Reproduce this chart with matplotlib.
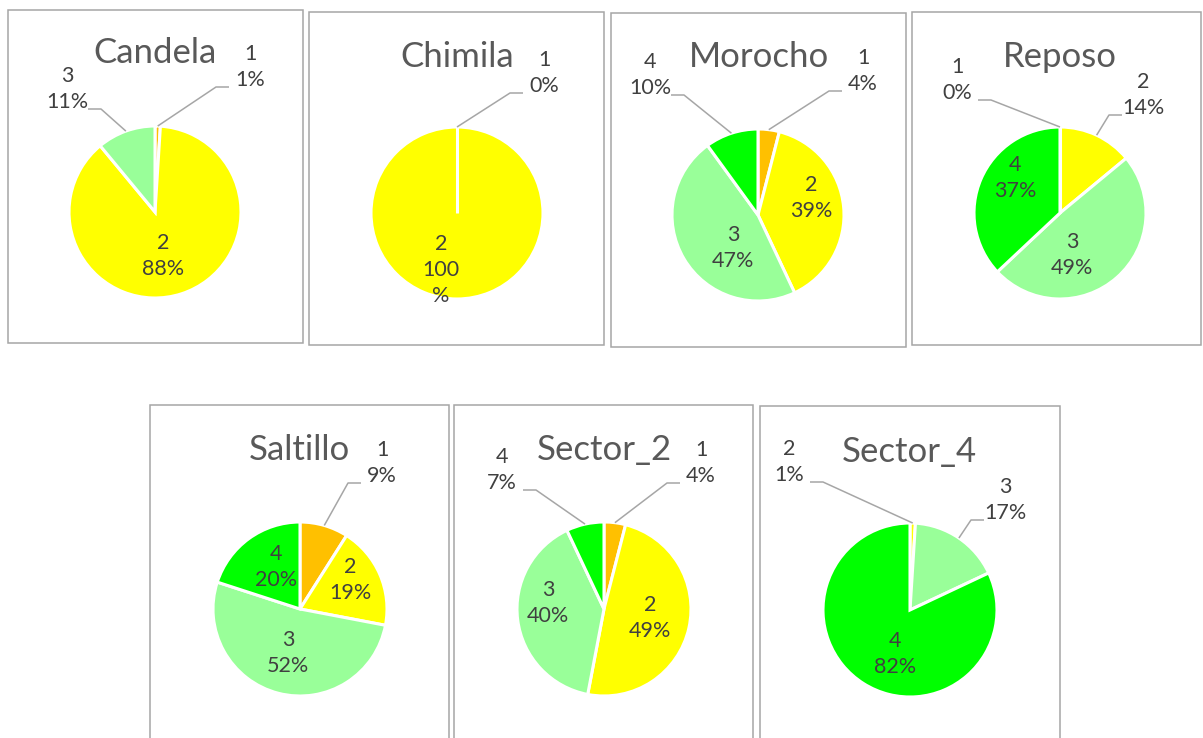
import numpy as np
import matplotlib
matplotlib.use("Agg")
import matplotlib.pyplot as plt
from matplotlib.patches import Rectangle

# ── Data: share of each class per site (%) ───────────────────────────────────
sites = ["Candela", "Chimila", "Morocho", "Reposo", "Saltillo", "Sector_2", "Sector_4"]

candela_cats, candela_pct = ["1", "2", "3"], [1, 88, 11]
chimila_cats, chimila_pct = ["1", "2"], [0, 100]
morocho_cats, morocho_pct = ["1", "2", "3", "4"], [4, 39, 47, 10]
reposo_cats, reposo_pct = ["1", "2", "3", "4"], [0, 14, 49, 37]
saltillo_cats, saltillo_pct = ["1", "2", "3", "4"], [9, 19, 52, 20]
sector2_cats, sector2_pct = ["1", "2", "3", "4"], [4, 49, 40, 7]
sector4_cats, sector4_pct = ["2", "3", "4"], [1, 17, 82]

site_data = {
    "Candela": (candela_cats, candela_pct),
    "Chimila": (chimila_cats, chimila_pct),
    "Morocho": (morocho_cats, morocho_pct),
    "Reposo": (reposo_cats, reposo_pct),
    "Saltillo": (saltillo_cats, saltillo_pct),
    "Sector_2": (sector2_cats, sector2_pct),
    "Sector_4": (sector4_cats, sector4_pct),
}

class_colors = {"1": "#FFC000", "2": "#FFFF00", "3": "#99FF99", "4": "#00FF00"}

# ── Layout in pixels (origin top-left) ───────────────────────────────────────
W, H = 1203, 738
layout = {
    "Candela":  dict(box=(8, 10, 303, 343), c=(155, 212), r=86, title=(155, 53),
                     lab={"1": (250, 67, True), "2": (163, 256, False), "3": (67, 89, True)}),
    "Chimila":  dict(box=(309, 12, 604, 345), c=(457, 213), r=86, title=(457, 57),
                     lab={"1": (544, 73, True), "2": (441, 270, False)}),
    "Morocho":  dict(box=(611, 13, 906, 347), c=(758, 215), r=86, title=(759, 57),
                     lab={"1": (863, 71, True), "2": (811, 198, False),
                          "3": (733, 248, False), "4": (650, 75, True)}),
    "Reposo":   dict(box=(912, 12, 1201, 345), c=(1060, 213), r=86, title=(1060, 57),
                     lab={"1": (957, 80, True), "2": (1143, 95, True),
                          "3": (1072, 255, False), "4": (1015, 178, False)}),
    "Saltillo": dict(box=(150, 405, 449, 760), c=(300, 609), r=87, title=(299, 450),
                     lab={"1": (382, 463, True), "2": (350, 580, False),
                          "3": (288, 653, False), "4": (276, 567, False)}),
    "Sector_2": dict(box=(454, 405, 753, 760), c=(604, 609), r=87, title=(604, 450),
                     lab={"1": (701, 463, True), "2": (650, 618, False),
                          "3": (548, 603, False), "4": (502, 470, True)}),
    "Sector_4": dict(box=(760, 406, 1060, 760), c=(910, 610), r=87, title=(909, 452),
                     lab={"2": (789, 462, True), "3": (1005, 500, True), "4": (895, 654, False)}),
}

LABEL_COLOR = "#404040"
TITLE_COLOR = "#595959"
LEADER_COLOR = "#A6A6A6"

fig = plt.figure(figsize=(W / 100, H / 100), dpi=100)
ax = fig.add_axes([0, 0, 1, 1])


def fy(y):
    return H - y


for site in sites:
    cats, pct = site_data[site]
    lay = layout[site]
    x0, y0, x1, y1 = lay["box"]
    ax.add_patch(Rectangle((x0, fy(y1)), x1 - x0, y1 - y0, fill=False,
                           edgecolor="#A6A6A6", linewidth=1.1, zorder=0))

    cx, cy = lay["c"]
    r = lay["r"]
    wedges, _ = ax.pie(pct, colors=[class_colors[c] for c in cats],
                       startangle=90, counterclock=False,
                       center=(cx, fy(cy)), radius=r, frame=True,
                       wedgeprops=dict(edgecolor="white", linewidth=2.2))

    # empty classes still leave a white radial seam
    for val, w in zip(pct, wedges):
        if val == 0:
            a = np.deg2rad(w.theta1)
            ax.plot([cx, cx + r * np.cos(a)], [fy(cy), fy(cy) + r * np.sin(a)],
                    color="white", linewidth=2.2, solid_capstyle="butt", zorder=3)

    tx, ty = lay["title"]
    ax.text(tx, fy(ty), site, ha="center", va="center", fontsize=25,
            color=TITLE_COLOR, family="Lato")

    for cat, val, w in zip(cats, pct, wedges):
        lx, ly, outside = lay["lab"][cat]
        txt = f"{cat}\n{val}%"
        if site == "Chimila" and cat == "2":
            txt = f"{cat}\n{val}\n%"
        ax.text(lx, fy(ly), txt, ha="center", va="center", fontsize=15.5,
                color=LABEL_COLOR, family="Lato", linespacing=1.4, zorder=5)
        if outside:
            # leader from the slice rim to an elbow, then flat into the label
            mid = np.deg2rad((w.theta1 + w.theta2) / 2)
            rx = cx + r * np.cos(mid)
            ry = fy(cy) + r * np.sin(mid)
            side = 1 if lx > cx else -1
            ex = lx - side * 21
            elx = ex - side * 13
            ly_line = fy(ly + 20)
            ax.plot([rx, elx, ex], [ry, ly_line, ly_line], color=LEADER_COLOR,
                    linewidth=1.1, solid_capstyle="butt", zorder=4)

ax.set_xlim(0, W)
ax.set_ylim(0, H)
ax.set_aspect("auto")
ax.axis("off")

fig.savefig("out.png", dpi=100, facecolor="white")
